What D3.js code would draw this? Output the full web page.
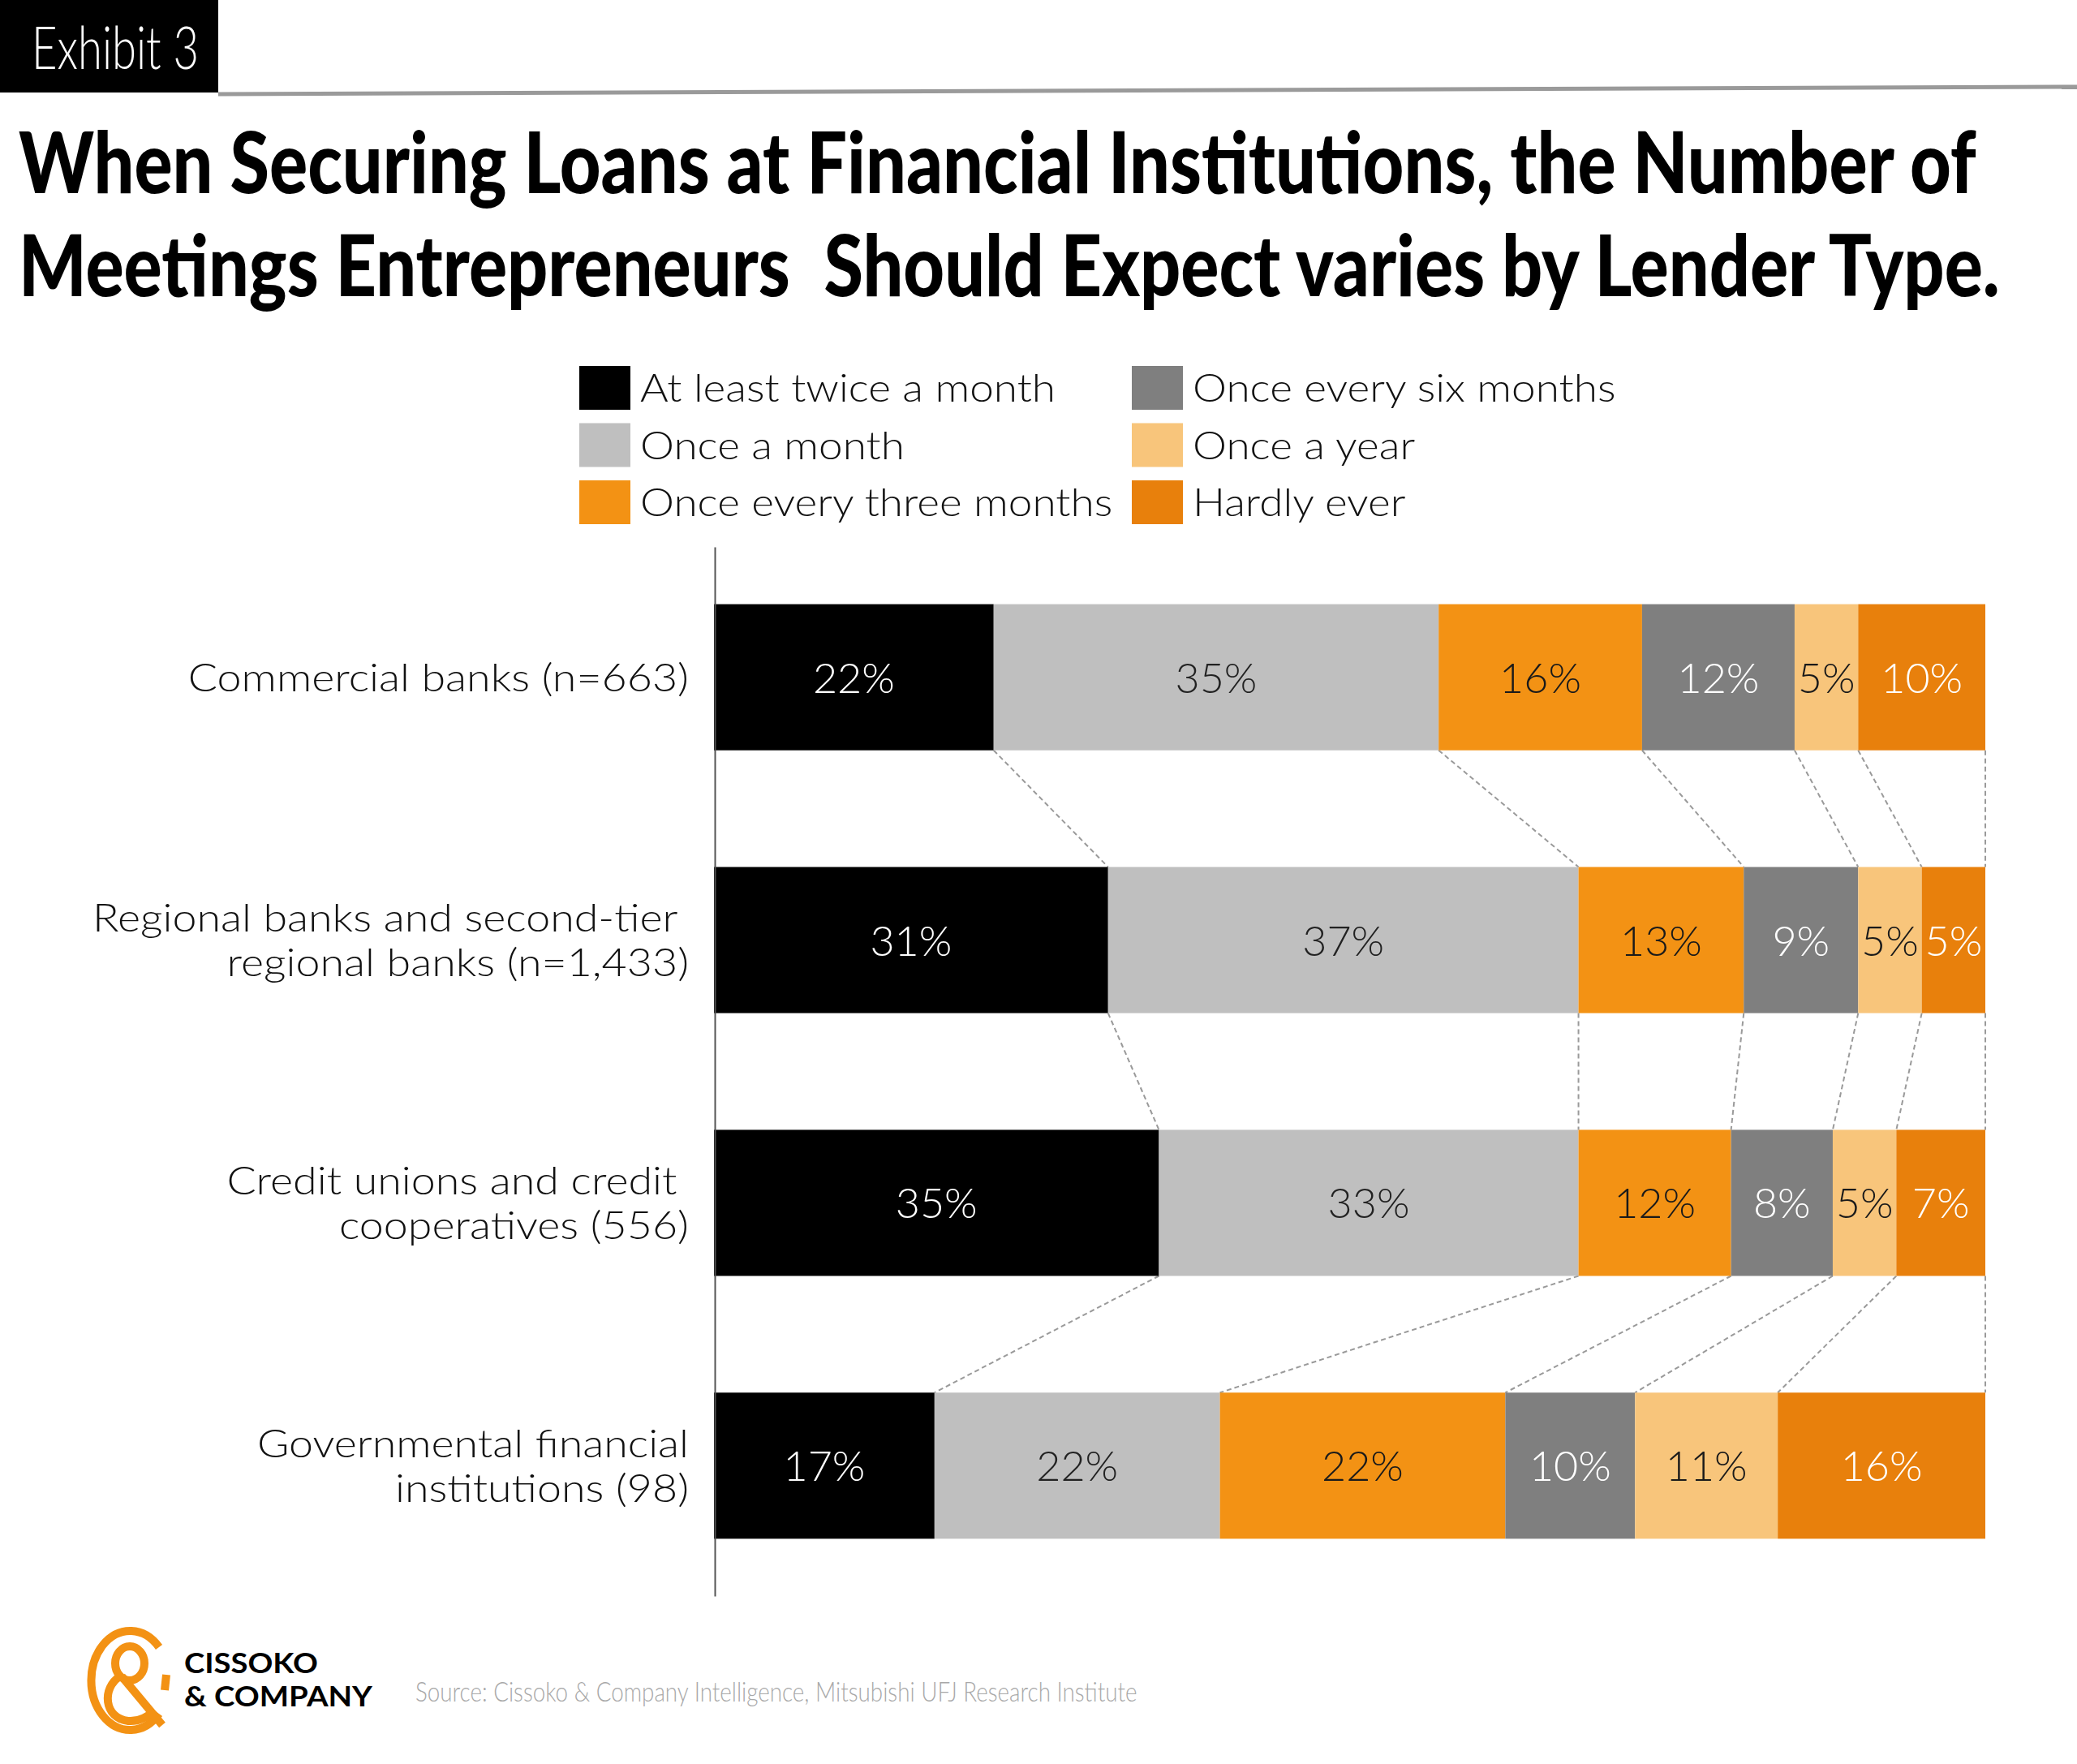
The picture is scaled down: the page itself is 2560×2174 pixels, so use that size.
<!DOCTYPE html>
<html>
<head>
<meta charset="utf-8">
<script src="https://cdn.jsdelivr.net/npm/d3@7"></script>
<style>
  body { margin: 0; background: #fff; }
  svg text { white-space: pre; }
</style>
</head>
<body>
<div id="chart"></div>
<script>
// categories (label lines) and series
const categories = [
    ["Commercial banks (n=663)"],
    ["Regional banks and second-tier ", "regional banks (n=1,433)"],
    ["Credit unions and credit ", "cooperatives (556)"],
    ["Governmental financial", "institutions (98)"]
];
const seriesNames = ["At least twice a month", "Once a month", "Once every three months",
    "Once every six months", "Once a year", "Hardly ever"];
const twiceMonth  = [22, 31, 35, 17];
const onceMonth   = [35, 37, 33, 22];
const threeMonths = [16, 13, 12, 22];
const sixMonths   = [12, 9, 8, 10];
const onceYear    = [5, 5, 5, 11];
const hardlyEver  = [10, 5, 7, 16];
const colors = ["#000000", "#bfbfbf", "#f39214", "#7f7f7f", "#f8c57b", "#e8800c"];
const labelColors = ["#ffffff", "#222222", "#1a1a1a", "#ffffff", "#1a1a1a", "#ffffff"];

const seriesValues = [twiceMonth, onceMonth, threeMonths, sixMonths, onceYear, hardlyEver];

// text placed with a horizontal squeeze/stretch (the original art is narrower/wider than our fonts)
function addText(parent, x, y, str, style, fit) {
    const t = parent.append("text").attr("transform", `translate(${x},${y})`).text(str);
    Object.entries(style).forEach(([k, v]) => t.attr(k, v));
    if (fit) {
        const w = t.node().getComputedTextLength();
        const sx = fit.width ? fit.width / w : fit.scale;
        t.attr("transform", `translate(${x},${y}) scale(${sx},1)`);
    }
    return t;
}

function createChart() {
    const width = 2560;
    const height = 2174;
    const lightFont = "Lato, 'Open Sans', sans-serif";
    const boldFont = "Lato, Roboto, sans-serif";

    const svg = d3.select("#chart")
        .append("svg")
        .attr("width", width)
        .attr("height", height);

    // header
    svg.append("rect").attr("x", 0).attr("y", 0).attr("width", 269).attr("height", 114).attr("fill", "#000");
    addText(svg, 39, 85, "Exhibit 3",
        { "font-family": lightFont, "font-weight": 300, "font-size": 72, fill: "#fff" }, { width: 206 });
    svg.append("line").attr("x1", 269).attr("y1", 116).attr("x2", width).attr("y2", 107)
        .attr("stroke", "#9a9a9a").attr("stroke-width", 5);

    const titleLines = [
        "When Securing Loans at Financial Institutions, the Number of",
        "Meetings Entrepreneurs  Should Expect varies by Lender Type."
    ];
    const titleWidths = [2413, 2442];
    titleLines.forEach((t, i) => {
        addText(svg, 23, 238 + i * 127, t,
            { "font-family": boldFont, "font-weight": 900, "font-size": 104, fill: "#000" },
            { width: titleWidths[i] });
    });

    // legend
    const legend = svg.append("g");
    seriesNames.forEach((name, i) => {
        const col = Math.floor(i / 3), row = i % 3;
        const gx = col === 0 ? 714 : 1395;
        const gy = 451 + row * 70.5;
        legend.append("rect").attr("x", gx).attr("y", gy).attr("width", 63).attr("height", 54)
            .attr("fill", colors[i]);
        addText(legend, gx + 75, gy + 27 + 17, name,
            { "font-family": lightFont, "font-weight": 300, "font-size": 47, fill: "#111" },
            { scale: 1.13 });
    });

    // stacked data, each row expanded to 100%
    const keys = seriesNames;
    const table = categories.map((c, i) => {
        const row = { idx: i };
        keys.forEach((k, j) => row[k] = seriesValues[j][i]);
        return row;
    });
    const stacked = d3.stack().keys(keys).offset(d3.stackOffsetExpand)(table);

    const xScale = d3.scaleLinear()
        .domain([0, 1])
        .range([880, 2447]);

    const yScale = d3.scaleBand()
        .domain(d3.range(categories.length))
        .range([674, 1967])
        .paddingInner(0.444)
        .paddingOuter(0.218);

    const bw = yScale.bandwidth();

    // connector lines between bars
    const connectors = svg.append("g");
    for (let i = 0; i < categories.length - 1; i++) {
        stacked.forEach(s => {
            connectors.append("line")
                .attr("x1", xScale(s[i][1])).attr("y1", yScale(i) + bw)
                .attr("x2", xScale(s[i + 1][1])).attr("y2", yScale(i + 1))
                .attr("stroke", "#9a9a9a").attr("stroke-width", 2)
                .attr("stroke-dasharray", "6,4");
        });
    }

    const layers = svg.selectAll(".layer")
        .data(stacked)
        .enter().append("g")
        .attr("class", "layer")
        .attr("fill", (d, i) => colors[i]);

    layers.selectAll("rect")
        .data(d => d)
        .enter().append("rect")
        .attr("x", d => xScale(d[0]))
        .attr("y", d => yScale(d.data.idx))
        .attr("width", d => xScale(d[1]) - xScale(d[0]))
        .attr("height", bw);

    layers.each(function(s, si) {
        d3.select(this).selectAll("text")
            .data(s)
            .enter().append("text")
            .attr("x", d => (xScale(d[0]) + xScale(d[1])) / 2)
            .attr("y", d => yScale(d.data.idx) + bw / 2 + 19)
            .attr("text-anchor", "middle")
            .attr("font-family", lightFont).attr("font-weight", 300).attr("font-size", 52)
            .attr("fill", labelColors[si])
            .text(d => d.data[s.key] + "%");
    });

    // axis
    svg.append("g")
        .attr("transform", "translate(881, 0)")
        .call(d3.axisLeft(yScale).tickSize(0).tickSizeOuter(0).tickFormat(""))
        .call(g => g.select(".domain").attr("stroke", "#555").attr("stroke-width", 2));

    // category labels
    categories.forEach((lines, i) => {
        const c = yScale(i) + bw / 2;
        lines.forEach((ln, j) => {
            addText(svg, 849, c + (j - (lines.length - 1) / 2) * 55 + 17, ln,
                { "text-anchor": "end", "font-family": lightFont, "font-weight": 300, "font-size": 48, fill: "#111" },
                { scale: 1.12 });
        });
    });

    // footer logo
    const logo = svg.append("g")
        .attr("fill", "none").attr("stroke", "#f39214").attr("stroke-width", 10).attr("stroke-linecap", "butt");
    logo.append("path").attr("d", "M196,2030 A48,61 0 1 0 196,2112");
    logo.append("path").attr("d", "M205,2064 L203,2083");
    logo.append("ellipse").attr("cx", 160).attr("cy", 2050).attr("rx", 18).attr("ry", 21);
    logo.append("path").attr("d", "M148,2066 C125,2080 128,2118 158,2121 C172,2122 182,2116 190,2108");
    logo.append("path").attr("d", "M150,2066 L200,2126");

    const logoStyle = { "font-family": boldFont, "font-weight": 700, "font-size": 35, fill: "#000" };
    addText(svg, 227, 2062, "CISSOKO", logoStyle, { width: 165 });
    addText(svg, 227, 2103, "& COMPANY", logoStyle, { width: 232 });

    addText(svg, 512, 2097, "Source: Cissoko & Company Intelligence, Mitsubishi UFJ Research Institute",
        { "font-family": lightFont, "font-weight": 300, "font-size": 34, fill: "#a8a8a8" }, { width: 890 });
}

document.addEventListener("DOMContentLoaded", createChart);
</script>
</body>
</html>
